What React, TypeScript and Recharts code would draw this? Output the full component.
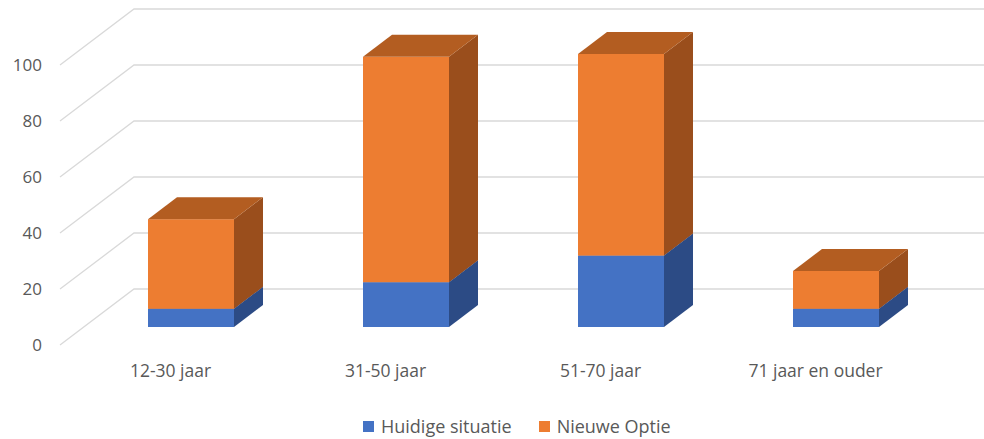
import React from 'react';
import { BarChart, Bar, XAxis, YAxis, CartesianGrid } from 'recharts';

const categories = ['12-30 jaar', '31-50 jaar', '51-70 jaar', '71 jaar en ouder'];
const huidigeSituatie = [6.5, 16, 25.5, 6.5];
const nieuweOptie = [32, 80.5, 72, 13.5];
const yTicks = [0, 20, 40, 60, 80, 100];

const data = categories.map((name, i) => ({
  name,
  huidige: huidigeSituatie[i],
  nieuwe: nieuweOptie[i],
}));

const SERIES = [
  { key: 'huidige', label: 'Huidige situatie', front: '#4472C4', side: '#2C4B85', top: '#3A63AD' },
  { key: 'nieuwe', label: 'Nieuwe Optie', front: '#ED7D31', side: '#9A4E1C', top: '#B35D21' },
];

const W = 984;
const H = 439;
// 3d offsets of the bar depth
const DX = 29;
const DY = 22;
const FONT = "'Open Sans', sans-serif";
const TEXT = '#595959';

const make3D = (front: string, side: string, top: string) => (props: any) => {
  const { x, y, width, height } = props;
  if (height == null || height <= 0) return <g />;
  return (
    <g>
      <rect x={x} y={y} width={width} height={height} fill={front} />
      <polygon
        points={`${x + width},${y} ${x + width + DX},${y - DY} ${x + width + DX},${y + height - DY} ${x + width},${y + height}`}
        fill={side}
      />
      <polygon
        points={`${x},${y} ${x + DX},${y - DY} ${x + width + DX},${y - DY} ${x + width},${y}`}
        fill={top}
      />
    </g>
  );
};

// gridline: diagonal on the side wall + horizontal on the back wall
const GridLine = (props: any) => {
  const { x1, y1 } = props;
  const fx = x1 - 23;
  const fy = y1 + 18;
  const bx = x1 + 51;
  const by = y1 - 38;
  return (
    <polyline
      key={props.key}
      points={`${fx},${fy} ${bx},${by} ${W},${by}`}
      fill="none"
      stroke="#D9D9D9"
      strokeWidth={1.3}
    />
  );
};

const YTick = ({ y, payload }: any) => (
  <text x={42} y={y + 17} textAnchor="end" dominantBaseline="central" fill={TEXT} fontSize={17} fontFamily={FONT}>
    {payload.value}
  </text>
);

const XTick = ({ x, y, payload }: any) => (
  <text x={x - 20} y={y + 35} textAnchor="middle" dominantBaseline="central" fill={TEXT} fontSize={17.5} fontFamily={FONT}>
    {payload.value}
  </text>
);

export default function App() {
  return (
    <div style={{ position: 'absolute', left: 0, top: 0, width: W, height: H, background: '#fff' }}>
      <BarChart width={W} height={H} data={data} margin={{ top: 47, right: 41, bottom: 0, left: 0 }}>
        <CartesianGrid vertical={false} horizontal={GridLine} />
        <XAxis dataKey="name" axisLine={false} tickLine={false} tick={<XTick />} height={112} interval={0} />
        <YAxis
          domain={[0, 100]}
          ticks={yTicks}
          axisLine={false}
          tickLine={false}
          width={83}
          tick={<YTick />}
        />
        {SERIES.map((s) => (
          <Bar
            key={s.key}
            dataKey={s.key}
            stackId="a"
            barSize={86}
            isAnimationActive={false}
            fill={s.front}
            shape={make3D(s.front, s.side, s.top)}
          />
        ))}
      </BarChart>

      {/* Legend */}
      <div
        style={{
          position: 'absolute',
          top: 414,
          left: 363,
          display: 'flex',
          gap: 27,
          fontFamily: FONT,
          fontSize: 18,
          color: TEXT,
          lineHeight: '24px',
          whiteSpace: 'nowrap',
        }}
      >
        {SERIES.map((s) => (
          <div key={s.key} style={{ display: 'flex', alignItems: 'center', gap: 7 }}>
            <span style={{ display: 'inline-block', width: 11, height: 11, background: s.front }} />
            <span>{s.label}</span>
          </div>
        ))}
      </div>
    </div>
  );
}
